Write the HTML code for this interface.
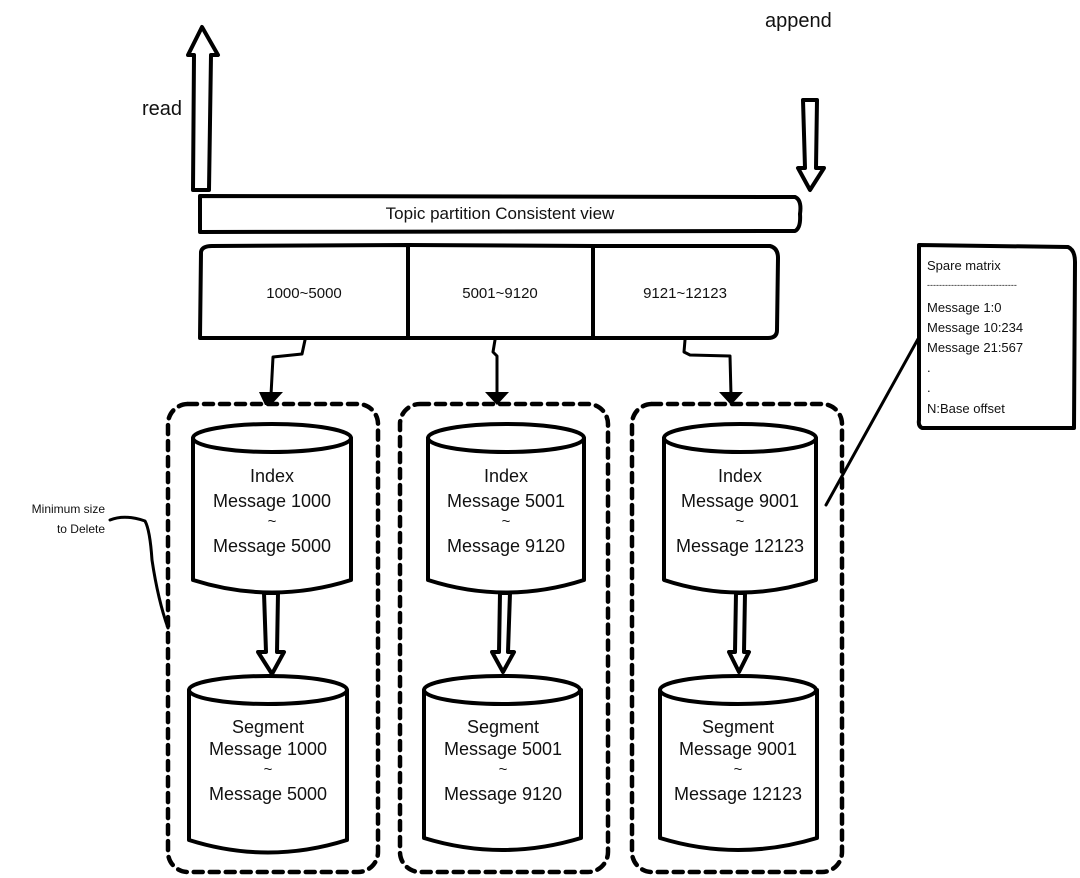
<!DOCTYPE html>
<html><head><meta charset="utf-8"><style>
html,body{margin:0;padding:0;background:#fff;}
svg{display:block;}
text{font-family:"Liberation Sans","DejaVu Sans",sans-serif;fill:#111;}
</style></head><body>
<svg width="1080" height="878" viewBox="0 0 1080 878" xmlns="http://www.w3.org/2000/svg">
<g fill="none" stroke="#000" stroke-width="4" stroke-linejoin="round" stroke-linecap="round">
<path d="M193,190 L194,55 L188,55 L202,27 L218,55 L211,55 L209,190 Z" fill="#fff"/>
<path d="M803,100 L817,100 L816,168 L824,168 L810,190 L798,168 L805,168 Z" fill="#fff"/>
<path d="M200,196 L795,197 Q802,200 800,214 Q801,228 795,231 L200,232 Z" fill="#fff"/>
<path d="M201,252 Q202,246 212,246 L408,245 L408,338 L200,338 Z" fill="#fff"/>
<path d="M408,245 L593,246 L593,338 L408,338"/>
<path d="M593,246 L770,246 Q778,248 778,258 L777,330 Q777,338 768,338 L593,338"/>
<path d="M305,340 L302,354 L273,357 L271,395" stroke-width="3"/>
<path d="M495,340 L493,352 L497,356 L497,395" stroke-width="3"/>
<path d="M685,340 L684,352 L690,355 L730,356 L731,395" stroke-width="3"/>
<rect x="168" y="404" width="210" height="468" rx="20" stroke-dasharray="9,7" stroke-width="4.5"/>
<rect x="400" y="404" width="208" height="468" rx="20" stroke-dasharray="9,7" stroke-width="4.5"/>
<rect x="632" y="404" width="210" height="468" rx="20" stroke-dasharray="9,7" stroke-width="4.5"/>
<path d="M193,438 L193,580 Q272,605 351,580 L351,438" fill="#fff"/>
<ellipse cx="272" cy="438" rx="79" ry="14" fill="#fff"/>
<path d="M428,438 L428,580 Q506,605 584,580 L584,438" fill="#fff"/>
<ellipse cx="506" cy="438" rx="78" ry="14" fill="#fff"/>
<path d="M664,438 L664,580 Q740,605 816,580 L816,438" fill="#fff"/>
<ellipse cx="740" cy="438" rx="76" ry="14" fill="#fff"/>
<path d="M189,690 L189,840 Q268,865 347,840 L347,690" fill="#fff"/>
<ellipse cx="268" cy="690" rx="79" ry="14" fill="#fff"/>
<path d="M424,690 L424,838 Q502,862 581,838 L581,690" fill="#fff"/>
<ellipse cx="502" cy="690" rx="78" ry="14" fill="#fff"/>
<path d="M660,690 L660,838 Q738,862 817,838 L817,690" fill="#fff"/>
<ellipse cx="738" cy="690" rx="78" ry="14" fill="#fff"/>
<path d="M264,593 L266,652 L258,652 L272,674 L284,652 L277,652 L278,593 Z" fill="#fff"/>
<path d="M500,593 L499,652 L492,652 L503,672 L514,652 L508,652 L510,593 Z" fill="#fff"/>
<path d="M736,593 L735,652 L729,652 L739,672 L749,652 L744,652 L745,593 Z" fill="#fff"/>
<path d="M919,245 L1068,247 Q1075,250 1075,262 L1074,428 L922,428 Q918,426 919,420 Z" fill="#fff"/>
<path d="M918,339 L826,505" stroke-width="3"/>
<path d="M110,520 Q125,514 145,521 Q150,530 152,560 Q158,600 168,628" stroke-width="3"/>
</g>
<g fill="#000">
<path d="M265,405 L259,392 L283,392 L271,405 Z"/>
<path d="M497,405 L485,392 L509,392 Z"/>
<path d="M731,405 L719,392 L743,392 Z"/>
</g>
<text x="142" y="115" font-size="20">read</text>
<text x="765" y="27" font-size="20">append</text>
<text x="500" y="219" font-size="17" text-anchor="middle">Topic partition Consistent view</text>
<text x="304" y="298" font-size="15" text-anchor="middle">1000~5000</text>
<text x="500" y="298" font-size="15" text-anchor="middle">5001~9120</text>
<text x="685" y="298" font-size="15" text-anchor="middle">9121~12123</text>
<g font-size="18" text-anchor="middle">
<text x="272" y="482">Index</text><text x="272" y="507">Message 1000</text><text x="272" y="526" font-size="15">~</text><text x="272" y="552">Message 5000</text>
<text x="506" y="482">Index</text><text x="506" y="507">Message 5001</text><text x="506" y="526" font-size="15">~</text><text x="506" y="552">Message 9120</text>
<text x="740" y="482">Index</text><text x="740" y="507">Message 9001</text><text x="740" y="526" font-size="15">~</text><text x="740" y="552">Message 12123</text>
<text x="268" y="733">Segment</text><text x="268" y="755">Message 1000</text><text x="268" y="774" font-size="15">~</text><text x="268" y="800">Message 5000</text>
<text x="503" y="733">Segment</text><text x="503" y="755">Message 5001</text><text x="503" y="774" font-size="15">~</text><text x="503" y="800">Message 9120</text>
<text x="738" y="733">Segment</text><text x="738" y="755">Message 9001</text><text x="738" y="774" font-size="15">~</text><text x="738" y="800">Message 12123</text>
</g>
<g font-size="13">
<text x="927" y="270">Spare matrix</text>
<text x="927" y="288" font-size="9">------------------------------</text>
<text x="927" y="312">Message 1:0</text>
<text x="927" y="332">Message 10:234</text>
<text x="927" y="352">Message 21:567</text>
<text x="927" y="372">.</text>
<text x="927" y="392">.</text>
<text x="927" y="413">N:Base offset</text>
</g>
<g font-size="12" text-anchor="end">
<text x="105" y="513">Minimum size</text>
<text x="105" y="533">to Delete</text>
</g>
</svg>
</body></html>
